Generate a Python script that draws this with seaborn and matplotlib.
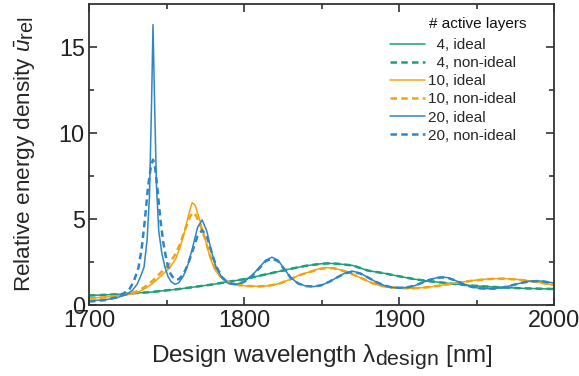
import numpy as np
import pandas as pd
import matplotlib
matplotlib.use("Agg")
import matplotlib.pyplot as plt
import matplotlib._mathtext as _mt
import seaborn as sns

# ---------------- data ----------------
g4_x = [1700, 1720, 1740, 1760, 1780, 1790, 1800, 1810, 1820, 1830, 1840, 1850, 1855,
        1860, 1870, 1880, 1890, 1900, 1910, 1920, 1933, 1945, 1955, 1965, 1980, 2000]
g4_ideal = [0.55, 0.63, 0.75, 0.95, 1.2, 1.35, 1.5, 1.7, 1.9, 2.1, 2.28, 2.4, 2.42,
            2.4, 2.3, 2.0, 1.85, 1.67, 1.5, 1.38, 1.25, 1.14, 1.08, 1.03, 0.97, 0.93]
g4_nonideal = [0.55, 0.63, 0.75, 0.95, 1.2, 1.35, 1.5, 1.7, 1.9, 2.1, 2.28, 2.4, 2.42,
               2.4, 2.3, 2.0, 1.85, 1.67, 1.5, 1.38, 1.25, 1.14, 1.08, 1.03, 0.97, 0.93]

o10_x = [1700, 1710, 1720, 1726, 1731, 1736, 1741, 1746, 1752, 1756, 1759, 1762, 1765,
         1766.6, 1768.5, 1771.6, 1775, 1778, 1781, 1784.5, 1788, 1791, 1797, 1803, 1810,
         1816, 1823, 1830, 1836, 1842.6, 1848, 1853, 1858, 1864, 1870, 1876, 1882, 1888,
         1895, 1902, 1909, 1918, 1928, 1938, 1948, 1958, 1967, 1975, 1983, 1991, 2000]
o10_ideal = [0.4, 0.45, 0.55, 0.62, 0.72, 0.95, 1.25, 1.65, 2.15, 2.7, 3.4, 4.4, 5.5,
             5.95, 5.8, 4.9, 3.8, 2.8, 2.1, 1.65, 1.4, 1.27, 1.15, 1.1, 1.08,
             1.12, 1.25, 1.5, 1.75, 1.94, 2.1, 2.17, 2.15, 2.0, 1.8, 1.55, 1.3, 1.12,
             1.02, 0.98, 0.97, 1.03, 1.15, 1.3, 1.43, 1.52, 1.54, 1.5, 1.42, 1.3, 1.16]
o10_nonideal = [0.38, 0.44, 0.55, 0.65, 0.8, 1.05, 1.4, 1.85, 2.4, 3.0, 3.6, 4.4, 5.1,
                5.35, 5.3, 4.7, 3.8, 2.9, 2.2, 1.7, 1.42, 1.28, 1.15, 1.1, 1.08,
                1.12, 1.25, 1.5, 1.74, 1.92, 2.08, 2.15, 2.13, 1.99, 1.79, 1.55, 1.3, 1.12,
                1.02, 0.98, 0.97, 1.03, 1.15, 1.3, 1.42, 1.51, 1.53, 1.49, 1.41, 1.3, 1.16]

b20i_x = [1700, 1710, 1718, 1724, 1728, 1731, 1733, 1735.5, 1737.5, 1739, 1740.3, 1741.3,
          1742.3, 1743.5, 1745, 1747, 1749, 1751, 1753, 1755.5, 1758, 1761, 1764, 1767,
          1770, 1773, 1776, 1779, 1782, 1786, 1790, 1795, 1800, 1805, 1810, 1814, 1818,
          1822, 1826, 1830, 1835, 1840, 1845, 1850, 1855, 1860, 1865, 1870, 1875, 1880,
          1885, 1890, 1895, 1900, 1905, 1910, 1915, 1920, 1925, 1928, 1932, 1937, 1942,
          1947, 1952, 1957, 1961, 1966, 1971, 1976, 1981, 1985, 1989, 1993, 1997, 2000]
b20_ideal = [0.25, 0.3, 0.42, 0.6, 0.85, 1.2, 1.6, 2.2, 3.8, 6.3, 11.5, 16.3,
             11.8, 7.0, 4.3, 3.0, 2.2, 1.65, 1.35, 1.2, 1.3, 1.7, 2.4, 3.4,
             4.5, 4.95, 4.3, 3.1, 2.2, 1.55, 1.25, 1.2, 1.35, 1.7, 2.2, 2.6, 2.78,
             2.6, 2.1, 1.6, 1.25, 1.1, 1.07, 1.15, 1.35, 1.6, 1.85, 1.97, 1.85, 1.6,
             1.35, 1.15, 1.03, 1.0, 1.02, 1.12, 1.3, 1.48, 1.6, 1.63, 1.58, 1.4, 1.2,
             1.05, 0.97, 0.95, 0.95, 1.0, 1.1, 1.22, 1.33, 1.39, 1.41, 1.38, 1.32, 1.28]

b20n_x = [1700, 1710, 1718, 1722, 1726, 1729, 1732, 1734, 1736, 1738, 1740, 1741.3,
          1742.5, 1744, 1746, 1748, 1750, 1752, 1755, 1758, 1761, 1764, 1767, 1770,
          1773, 1776, 1779, 1782, 1786, 1790, 1795, 1800, 1805, 1810, 1814, 1818,
          1822, 1826, 1830, 1835, 1840, 1845, 1850, 1855, 1860, 1865, 1870, 1875, 1880,
          1885, 1890, 1895, 1900, 1905, 1910, 1915, 1920, 1925, 1928, 1932, 1937, 1942,
          1947, 1952, 1957, 1961, 1966, 1971, 1976, 1981, 1985, 1989, 1993, 1997, 2000]
b20_nonideal = [0.2, 0.28, 0.45, 0.65, 0.9, 1.4, 2.2, 3.3, 4.9, 6.8, 8.1, 8.45,
                8.1, 6.9, 5.0, 3.6, 2.6, 1.9, 1.5, 1.5, 1.8, 2.4, 3.2, 4.0,
                4.35, 4.0, 3.1, 2.25, 1.6, 1.27, 1.2, 1.34, 1.68, 2.15, 2.55, 2.7,
                2.55, 2.07, 1.6, 1.25, 1.1, 1.07, 1.15, 1.35, 1.6, 1.83, 1.94, 1.83, 1.6,
                1.35, 1.15, 1.03, 1.0, 1.02, 1.12, 1.3, 1.47, 1.58, 1.6, 1.56, 1.4, 1.2,
                1.05, 0.97, 0.95, 0.95, 1.0, 1.1, 1.22, 1.32, 1.38, 1.39, 1.37, 1.31, 1.27]

labels = ["  4, ideal", "  4, non-ideal", "10, ideal", "10, non-ideal", "20, ideal", "20, non-ideal"]
legend_title = "# active layers"
x_ticks = [1700, 1800, 1900, 2000]
y_ticks = [0, 5, 10, 15]

# ---------------- style ----------------
_mt.SHRINK_FACTOR = 0.88  # larger subscripts, like the reference
sns.set_theme(style="ticks")
plt.rcParams["font.family"] = ["Liberation Sans", "DejaVu Sans"]
plt.rcParams["mathtext.fontset"] = "custom"
plt.rcParams["mathtext.rm"] = "Liberation Sans"
plt.rcParams["mathtext.it"] = "Liberation Sans:italic"
plt.rcParams["mathtext.bf"] = "Liberation Sans:bold"

green = "#1ba07a"
orange = "#f5a20c"
blue = "#2e86c8"
dash = (0, (2.6, 1.7))

fig = plt.figure(figsize=(5.79, 3.76), dpi=100)
ax = fig.add_axes([89 / 579, 71 / 376, 465 / 579, 301 / 376])

series = [
    (g4_x, g4_ideal, green, "-", 1.1, labels[0]),
    (g4_x, g4_nonideal, green, dash, 1.8, labels[1]),
    (o10_x, o10_ideal, orange, "-", 1.1, labels[2]),
    (o10_x, o10_nonideal, orange, dash, 1.8, labels[3]),
    (b20i_x, b20_ideal, blue, "-", 1.1, labels[4]),
    (b20n_x, b20_nonideal, blue, dash, 1.8, labels[5]),
]
for xs, ys, c, ls, lw, lab in series:
    df = pd.DataFrame({"x": xs, "y": ys})
    sns.lineplot(data=df, x="x", y="y", ax=ax, color=c, linestyle=ls,
                 linewidth=lw, label=lab, sort=False)

ax.set_xlim(1700, 2000)
ax.set_ylim(0, 17.5)
ax.set_xticks(x_ticks)
ax.set_yticks(y_ticks)
ax.set_xticks([1750, 1850, 1950], minor=True)
ax.set_yticks([2.5, 7.5, 12.5], minor=True)
ax.tick_params(which="both", direction="in", top=True, right=True,
               labelsize=16.8, colors="#222222", width=1.1)
ax.tick_params(which="major", length=6)
ax.tick_params(which="minor", length=3.5)
ax.tick_params(axis="x", pad=2.6)
ax.tick_params(axis="y", pad=3)
for s in ax.spines.values():
    s.set_linewidth(1.3)
    s.set_color("#333333")

ax.set_xlabel(r"Design wavelength λ$_{\mathrm{design}}$ [nm]", fontsize=17.5, labelpad=7.5)
ax.set_ylabel(r"Relative energy density $\bar{u}_{\mathrm{rel}}$", fontsize=16.2, labelpad=15)

leg = ax.legend(loc="upper left", frameon=False, fontsize=11,
                handlelength=2.3, labelspacing=0.27, handletextpad=0.2,
                borderaxespad=0, borderpad=0,
                bbox_to_anchor=(390 / 579, 1 - 38 / 376), bbox_transform=fig.transFigure)
fig.text(478 / 579, 1 - 24 / 376, legend_title, fontsize=11, ha="center", va="center",
         color="#111111")

fig.savefig("out.png", dpi=100)
